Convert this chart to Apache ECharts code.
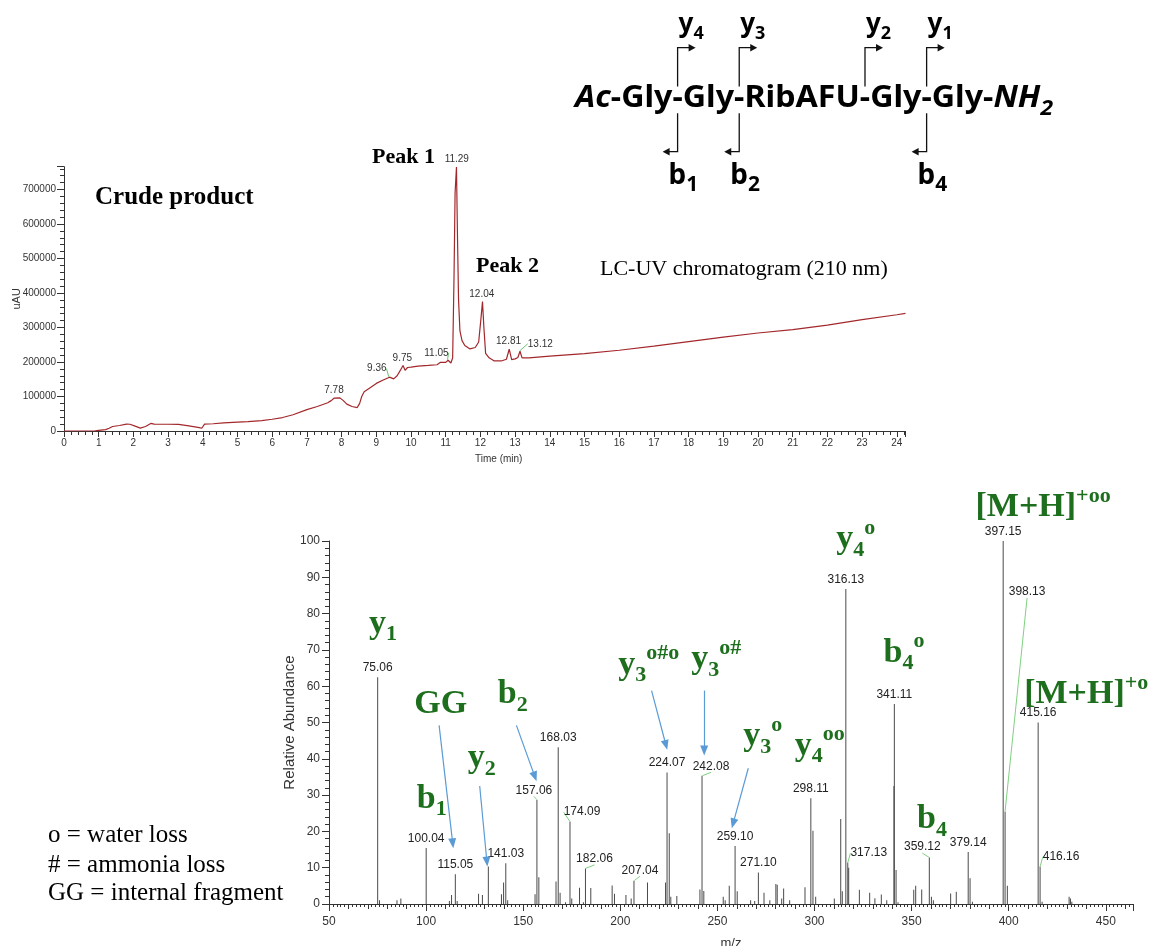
<!DOCTYPE html>
<html><head><meta charset="utf-8">
<script src="https://cdn.jsdelivr.net/npm/echarts@6/dist/echarts.min.js"></script>
<style>html,body{margin:0;padding:0;background:#fff}#c{width:1149px;height:946px}</style>
</head><body><div id="c"></div>
<script>
// ---------------- DATA ----------------
// LC-UV chromatogram (time in min, signal in uAU)
const chromTime = [0,0.5,0.9,1.0,1.2,1.3,1.4,1.6,1.8,1.9,2.05,2.2,2.35,2.5,2.6,2.8,3.0,3.3,3.6,3.9,3.97,4.05,4.3,4.6,5.0,5.3,5.7,6.0,6.3,6.6,7.0,7.3,7.6,7.7,7.78,7.95,8.05,8.15,8.3,8.45,8.52,8.58,8.65,8.8,9.0,9.2,9.38,9.5,9.6,9.7,9.77,9.83,9.9,10.0,10.2,10.5,10.75,10.85,11.0,11.07,11.15,11.2,11.24,11.27,11.31,11.34,11.37,11.41,11.47,11.55,11.7,11.85,11.95,12.01,12.06,12.1,12.15,12.25,12.4,12.6,12.75,12.83,12.9,13.0,13.08,13.14,13.2,13.4,14,15,16,17,18,19,20,21,22,23,24,24.25];
const chromUAU = [0,0,500,2000,4000,8000,13000,16000,20000,19500,14000,8500,13000,22000,20000,19500,19500,19000,15000,10000,8000,20000,21000,23500,26000,27000,30000,34000,39000,47000,62000,71000,82000,88000,95000,96000,88000,78000,71000,68000,80000,100000,114000,124000,138000,148000,156000,151000,160000,177000,190000,176000,184000,185000,188000,190000,192000,199000,199000,205000,197000,212000,450000,690000,765000,560000,380000,290000,262000,248000,238000,242000,258000,320000,375000,300000,225000,212000,203000,203000,208000,237000,207000,209000,213000,231000,212000,212000,217000,224000,234000,246000,259000,272000,284000,294000,307000,323000,337000,341000];
const chromPeakLabels = ['7.78','9.36','9.75','11.05','11.29','12.04','12.81','13.12'];
const chromPeakHeights = [95000,156000,190000,205000,765000,375000,237000,231000];

// MS/MS spectrum (m/z, relative abundance %)
const msMz = [75.06,76.0,85.0,87.0,100.04,112.0,113.1,115.05,116.0,127.0,129.0,132.05,138.8,139.9,141.03,142.0,156.1,157.06,158.05,166.9,168.03,169.0,171.8,174.09,175.0,179.0,181.0,182.06,184.8,195.8,197.0,202.9,205.6,207.04,214.0,223.3,224.07,225.2,226.0,229.1,241.0,242.08,243.0,253.0,254.0,256.1,259.10,260.2,267.1,269.2,271.10,274.0,277.0,280.1,280.8,283.1,284.1,287.2,295.1,298.11,299.2,300.6,310.2,313.5,314.3,316.13,317.13,317.6,323.1,328.4,331.1,334.4,337.2,340.9,341.11,342.0,343.0,351.1,352.1,355.2,359.12,360.2,361.2,370.1,373.0,379.14,380.1,381.3,397.15,398.13,399.3,415.16,416.16,417.2,431.1,431.8,432.5];
const msAbundance = [62.5,1.0,1.0,1.5,15.4,0.8,2.5,8.2,0.8,2.8,2.5,10.3,2.7,5.9,11.2,1.0,2.7,28.7,7.4,6.2,43.2,3.1,0.5,22.7,1.5,4.5,0.5,9.8,4.4,5.1,2.8,2.5,1.5,6.4,5.9,5.9,36.2,19.5,2.0,2.2,4.0,35.3,3.6,2.0,1.0,5.0,16.0,3.5,1.0,0.8,8.7,3.1,1.0,5.5,5.3,1.5,4.3,1.0,4.6,29.1,20.2,2.0,1.5,23.4,3.5,86.8,11.4,10.0,3.9,3.1,1.6,2.6,1.0,32.5,55.1,9.4,0.5,3.9,5.0,4.0,12.8,2.0,1.0,2.9,3.4,14.3,7.1,0.6,100,25.5,5.0,50.0,10.3,0.6,2.0,1.5,0.6];
const msPeakLabels = ['75.06','100.04','115.05','141.03','157.06','168.03','174.09','182.06','207.04','224.07','242.08','259.10','271.10','298.11','316.13','317.13','341.11','359.12','379.14','397.15','398.13','415.16','416.16'];

// Fragment ion annotations (anchored in m/z / abundance space)
const ionBase = ['y','GG','b','y','b','y','y','y','y','y','b','b','[M+H]','[M+H]'];
const ionSub  = ['1','','1','2','2','3','3','3','4','4','4','4','',''];
const ionSup  = ['','','','','','o#o','o#','o','oo','o','o','','+oo','+o'];
const ionMz   = [77.8,107.5,102.9,128.7,144.6,214.7,249.4,273.4,302.7,321.3,346.1,360.5,417.7,439.9];
const ionAb   = [77.2,55.0,29.0,40.2,57.9,65.9,67.3,46.1,43.6,100.6,69.2,23.4,109.2,57.9];
const arrowFrom = [[106.7,49.2],[127.6,32.5],[146.5,49.2],[216.1,58.8],[243.2,58.8],[265.9,37.4]];
const arrowTo   = [[113.7,16.7],[131.3,11.7],[156.0,35.1],[223.5,43.8],[243.2,42.3],[258.1,22.2]];

// Axis ticks
const chromYTicks = {min:0, max:766000, interval:100000};
const chromXTicks = {min:0, max:24.25, interval:1};
const msYTicks = {min:0, max:100, interval:10};
const msXTicks = {min:50, max:464, interval:50};

// ---------------- STYLE / LAYOUT ----------------
const LAB = "'Liberation Sans',Arial,sans-serif";
const SERIF = "'Liberation Serif','Times New Roman',serif";
const SANS = "'Noto Sans','DejaVu Sans',sans-serif";
const GREEN = '#1d6e1d';
const AXIS = '#333';

const chromOffsets = {'9.36':[-12,-1],'11.05':[-11,0],'11.29':[1,0],'13.12':[21,0]};
const msOffsets = {'157.06':[-3,0],'174.09':[12,0],'182.06':[9,0],'207.04':[6,-1],'242.08':[9,0],'317.13':[21,0],'359.12':[-7,-1],'398.13':[22,-210],'416.16':[21,0]};

const chart = echarts.init(document.getElementById('c'), null, {renderer:'canvas'});

const chromLabelData = chromPeakLabels.map((l,i)=>{
  const moved = chromOffsets[l] && Math.abs(chromOffsets[l][0])>5;
  return {name:l, value:[parseFloat(l), chromPeakHeights[i]], labelLine:{show:!!moved}};
});
const msLabelData = msPeakLabels.map(l=>{
  const m = parseFloat(l);
  const idx = msMz.indexOf(m);
  return {name:l, value:[m, msAbundance[idx]], labelLine:{show: !!msOffsets[l]}};
});
const ionData = ionBase.map((b,i)=>{
  let s = '{m|'+b+'}';
  if (ionSub[i]) s += '{sub|'+ionSub[i]+'}';
  if (ionSup[i]) s += '{sup|'+ionSup[i]+'}';
  return {name:s, value:[ionMz[i], ionAb[i]]};
});

// ---------- peptide structure (graphic) ----------
const cv = document.createElement('canvas').getContext('2d');
function tw(font, s){ cv.font = font; return cv.measureText(s).width; }
const fMain = `bold 31px ${SANS}`, fIt = `italic bold 31px ${SANS}`, fSub = `italic bold 22px ${SANS}`;
const midStr = '-Gly-Gly-RibAFU-Gly-Gly-';
const wAc = tw(fIt,'Ac'), wMid = tw(fMain, midStr), wNH = tw(fIt,'NH'), w2 = tw(fSub,'2');
const sLeft = 575, sRight = 1053;
const sx = (sRight - sLeft) / (wAc + wMid + wNH + w2);
const baseY = 98;
const cutIdx = [4,8,15,19];
const cutX = cutIdx.map(i => sLeft + sx*(wAc + tw(fMain, midStr.slice(0,i)) + tw(fMain,'-')/2));
const yNames = ['4','3','2','1'];
const bNames = ['1','2',null,'4'];

const graphics = [];
function txt(x,y,text,font,fill,scaleX){
  return {type:'text', x:x, y:y, scaleX:scaleX||1, silent:true,
    style:{text:text, font:font, fill:fill||'#000', align:'left', textAlign:'left', verticalAlign:'middle', textVerticalAlign:'middle'}};
}
graphics.push(txt(sLeft, baseY, 'Ac', fIt, '#000', sx));
graphics.push(txt(sLeft + sx*wAc, baseY, midStr, fMain, '#000', sx));
graphics.push(txt(sLeft + sx*(wAc+wMid), baseY, 'NH', fIt, '#000', sx));
graphics.push(txt(sLeft + sx*(wAc+wMid+wNH), baseY+11, '2', fSub, '#000', sx));
const LC = '#111';
cutX.forEach((x,i)=>{
  graphics.push({type:'polyline', silent:true, shape:{points:[[x,86.5],[x,47.7],[x+12,47.7]]}, style:{stroke:LC, lineWidth:1.3, fill:null}});
  graphics.push({type:'polygon', silent:true, shape:{points:[[x+11,44],[x+18,47.7],[x+11,51.4]]}, style:{fill:LC}});
  const fy = `bold 26px ${SANS}`, fys = `bold 18px ${SANS}`;
  graphics.push(txt(x+1, 25, 'y', fy));
  graphics.push(txt(x+1+tw(fy,'y'), 33.5, yNames[i], fys));
  if (bNames[i]) {
    graphics.push({type:'polyline', silent:true, shape:{points:[[x,113.3],[x,151.7],[x-9,151.7]]}, style:{stroke:LC, lineWidth:1.3, fill:null}});
    graphics.push({type:'polygon', silent:true, shape:{points:[[x-8,148],[x-15,151.7],[x-8,155.4]]}, style:{fill:LC}});
    const fb = `bold 28px ${SANS}`, fbs = `bold 21px ${SANS}`;
    graphics.push(txt(x-9, 176, 'b', fb));
    graphics.push(txt(x-9+tw(fb,'b'), 185, bNames[i], fbs));
  }
});
graphics.push(txt(95, 197.6, 'Crude product', `bold 25px ${SERIF}`));
graphics.push(txt(372, 157.6, 'Peak 1', `bold 22px ${SERIF}`));
graphics.push(txt(476, 266.6, 'Peak 2', `bold 22px ${SERIF}`));
graphics.push(txt(600, 269.3, 'LC-UV chromatogram (210 nm)', `22px ${SERIF}`));
graphics.push(txt(48, 835, 'o = water loss', `25px ${SERIF}`));
graphics.push(txt(48, 865, '# = ammonia loss', `25px ${SERIF}`));
graphics.push(txt(48, 893.5, 'GG = internal fragment', `25px ${SERIF}`));

const noSplit = {splitLine:{show:false}, minorSplitLine:{show:false}};
const option = {
  animation:false,
  backgroundColor:'#fff',
  grid:[
    {left:64, right:1149-905.5, top:166.7, bottom:946-431, containLabel:false, outerBoundsMode:'none'},
    {left:329, right:16, top:541, bottom:42, containLabel:false, outerBoundsMode:'none'}
  ],
  xAxis:[
    Object.assign({type:'value', gridIndex:0, position:'bottom', min:chromXTicks.min, max:chromXTicks.max, interval:chromXTicks.interval,
      name:'Time (min)', nameLocation:'middle', nameGap:23, nameMoveOverlap:false, nameTextStyle:{fontFamily:LAB, fontSize:10, color:AXIS, padding:[0,0,0,28]},
      axisLine:{show:true, lineStyle:{color:AXIS}},
      axisTick:{show:true, length:6, lineStyle:{color:AXIS}}, minorTick:{show:true, splitNumber:5, length:4, lineStyle:{color:AXIS}},
      axisLabel:{color:AXIS, fontFamily:LAB, fontSize:10, margin:7, showMaxLabel:false, formatter:v=>String(v)}}, noSplit),
    Object.assign({type:'value', gridIndex:1, position:'bottom', min:msXTicks.min, max:msXTicks.max, interval:msXTicks.interval,
      name:'m/z', nameLocation:'middle', nameGap:33, nameMoveOverlap:false, nameTextStyle:{fontFamily:LAB, fontSize:13, color:AXIS},
      axisLine:{show:true, lineStyle:{color:AXIS}},
      axisTick:{show:true, length:7, lineStyle:{color:AXIS}}, minorTick:{show:true, splitNumber:25, length:3, lineStyle:{color:AXIS}},
      axisLabel:{color:AXIS, fontFamily:LAB, fontSize:12, margin:12, showMaxLabel:false, formatter:v=>String(v)}}, noSplit),
    Object.assign({type:'value', gridIndex:1, position:'bottom', offset:0, min:msXTicks.min, max:msXTicks.max, interval:10,
      axisLine:{show:false}, axisLabel:{show:false},
      axisTick:{show:true, length:5, lineStyle:{color:AXIS}}}, noSplit)
  ],
  yAxis:[
    Object.assign({type:'value', gridIndex:0, min:chromYTicks.min, max:chromYTicks.max, interval:chromYTicks.interval,
      name:'uAU', nameLocation:'middle', nameGap:42, nameMoveOverlap:false, nameRotate:90, nameTextStyle:{fontFamily:LAB, fontSize:11, color:AXIS},
      axisLine:{show:true, lineStyle:{color:AXIS}},
      axisTick:{show:true, length:7, lineStyle:{color:AXIS}}, minorTick:{show:true, splitNumber:5, length:4, lineStyle:{color:AXIS}},
      axisLabel:{color:AXIS, fontFamily:LAB, fontSize:10, margin:8, showMaxLabel:false, formatter:v=>String(v)}}, noSplit),
    Object.assign({type:'value', gridIndex:1, min:msYTicks.min, max:msYTicks.max, interval:msYTicks.interval,
      name:'Relative Abundance', nameLocation:'middle', nameGap:32, nameMoveOverlap:false, nameRotate:90, nameTextStyle:{fontFamily:LAB, fontSize:15, color:AXIS},
      axisLine:{show:true, lineStyle:{color:AXIS}},
      axisTick:{show:true, length:7, lineStyle:{color:AXIS}}, minorTick:{show:true, splitNumber:5, length:4, lineStyle:{color:AXIS}},
      axisLabel:{color:AXIS, fontFamily:LAB, fontSize:12, margin:9, formatter:v=>String(v)}}, noSplit)
  ],
  series:[
    {type:'line', xAxisIndex:0, yAxisIndex:0, data:chromTime.map((t,i)=>[t, chromUAU[i]]), symbol:'none', showSymbol:false,
      lineStyle:{color:'#a3282c', width:1.2}, silent:true, z:3},
    {type:'scatter', xAxisIndex:0, yAxisIndex:0, data:chromLabelData, symbolSize:1, itemStyle:{color:'rgba(0,0,0,0)'}, silent:true, clip:false, z:4,
      label:{show:true, position:'top', distance:2, formatter:'{b}', fontFamily:LAB, fontSize:10, color:'#333', opacity:1},
      labelLine:{lineStyle:{color:'#6cc46c', width:1}},
      labelLayout:function(p){ const o = chromOffsets[chromPeakLabels[p.dataIndex]]; return o ? {dx:o[0], dy:o[1]} : {}; }},
    {type:'bar', xAxisIndex:1, yAxisIndex:1, data:msMz.map((m,i)=>[m, msAbundance[i]]), barWidth:1, itemStyle:{color:'#4a4a4a'}, silent:true, z:3,
      markLine:{silent:true, symbol:['none','triangle'], symbolSize:[8,10], label:{show:false},
        lineStyle:{color:'#5b9bd5', width:1.2, type:'solid'},
        data:arrowFrom.map((f,i)=>[{coord:f},{coord:arrowTo[i]}])}},
    {type:'scatter', xAxisIndex:1, yAxisIndex:1, data:msLabelData, symbolSize:1, itemStyle:{color:'rgba(0,0,0,0)'}, silent:true, clip:false, z:4,
      label:{show:true, position:'top', distance:3, formatter:'{b}', fontFamily:LAB, fontSize:12, color:'#222', opacity:1},
      labelLine:{lineStyle:{color:'#7fd17f', width:1}},
      labelLayout:function(p){ const o = msOffsets[msPeakLabels[p.dataIndex]]; return o ? {dx:o[0], dy:o[1]} : {}; }},
    {type:'scatter', xAxisIndex:1, yAxisIndex:1, data:ionData, symbolSize:1, itemStyle:{color:'rgba(0,0,0,0)'}, silent:true, clip:false, z:5,
      label:{show:true, position:'inside', formatter:'{b}', opacity:1,
        rich:{
          m:{fontFamily:SERIF, fontWeight:'bold', fontSize:34, lineHeight:44, color:GREEN},
          sub:{fontFamily:SERIF, fontWeight:'bold', fontSize:22, lineHeight:20, verticalAlign:'bottom', color:GREEN},
          sup:{fontFamily:SERIF, fontWeight:'bold', fontSize:22, lineHeight:32, verticalAlign:'top', color:GREEN}
        }}}
  ],
  graphic:graphics
};
chart.setOption(option);
</script>
</body></html>
